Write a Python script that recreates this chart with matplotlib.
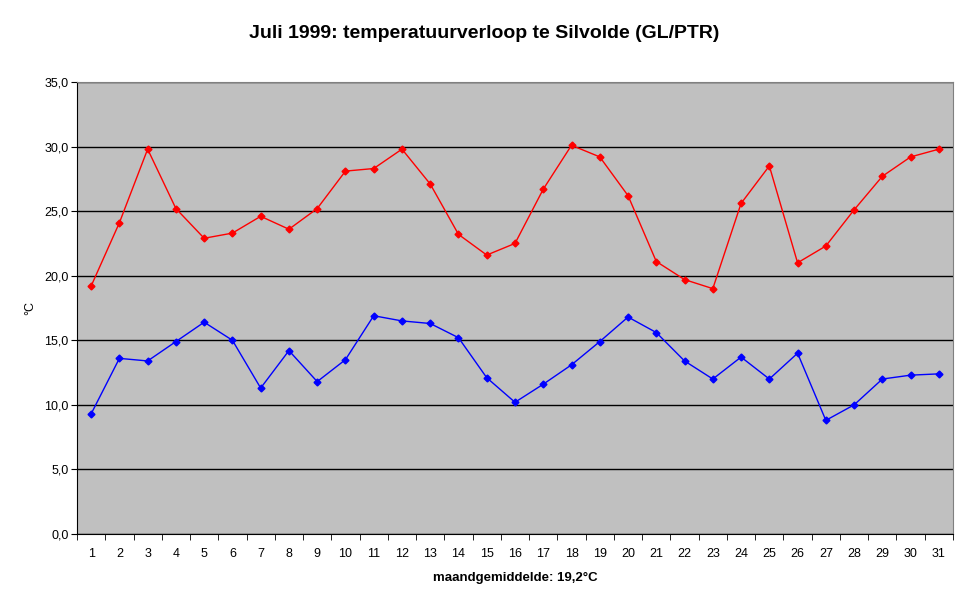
import matplotlib
matplotlib.use('Agg')
import matplotlib.pyplot as plt
from matplotlib.ticker import MultipleLocator, FuncFormatter

plt.rcParams['font.family'] = ['Liberation Sans', 'DejaVu Sans']

days = list(range(1, 32))
# daily maximum temperature (red)
t_max = [19.2, 24.1, 29.8, 25.2, 22.9, 23.3, 24.6, 23.6, 25.2, 28.1,
         28.3, 29.8, 27.1, 23.2, 21.6, 22.5, 26.7, 30.1, 29.2, 26.2,
         21.1, 19.7, 19.0, 25.6, 28.5, 21.0, 22.3, 25.1, 27.7, 29.2, 29.8]
# daily minimum temperature (blue)
t_min = [9.3, 13.6, 13.4, 14.9, 16.4, 15.0, 11.3, 14.2, 11.8, 13.5,
         16.9, 16.5, 16.3, 15.2, 12.1, 10.2, 11.6, 13.1, 14.9, 16.8,
         15.6, 13.4, 12.0, 13.7, 12.0, 14.0, 8.8, 10.0, 12.0, 12.3, 12.4]

title = 'Juli 1999: temperatuurverloop te Silvolde (GL/PTR)'
xlabel = 'maandgemiddelde: 19,2°C'
ylabel = '°C'

fig = plt.figure(figsize=(9.68, 6.04), dpi=100)
ax = fig.add_axes([77 / 968, 70 / 604, 876 / 968, 452 / 604])
ax.set_facecolor('#c0c0c0')

ax.plot(days, t_max, color='#ff0000', lw=1, marker='D', ms=3.5, mec='#ff0000', mfc='#ff0000')
ax.plot(days, t_min, color='#0000ff', lw=1, marker='D', ms=3.5, mec='#0000ff', mfc='#0000ff')

ax.set_xlim(0.5, 31.5)
ax.set_ylim(0, 35)
ax.yaxis.set_major_locator(MultipleLocator(5))
ax.yaxis.set_major_formatter(FuncFormatter(lambda v, p: f'{v:.1f}'.replace('.', ',')))
ax.grid(axis='y', color='black', lw=1)
ax.set_axisbelow(True)

# category labels at centres, tick marks at boundaries
ax.set_xticks(days)
ax.set_xticklabels([str(d) for d in days])
ax.tick_params(axis='x', which='major', length=0, labelsize=9, pad=10)
ax.set_xticks([d + 0.5 for d in range(0, 32)], minor=True)
ax.tick_params(axis='x', which='minor', length=4, direction='out', color='black')
ax.tick_params(axis='y', length=4, direction='out', labelsize=9, pad=2)

for s in ['top', 'right']:
    ax.spines[s].set_color('#808080')
for s in ['left', 'bottom']:
    ax.spines[s].set_color('black')

ax.set_xlabel(xlabel, fontsize=9.5, fontweight='bold', labelpad=9)
ax.set_ylabel(ylabel, fontsize=9, labelpad=6)
fig.text(0.5, 1 - 33 / 604, title, ha='center', va='center', fontsize=14, fontweight='bold')

fig.savefig('out.png', dpi=100)
